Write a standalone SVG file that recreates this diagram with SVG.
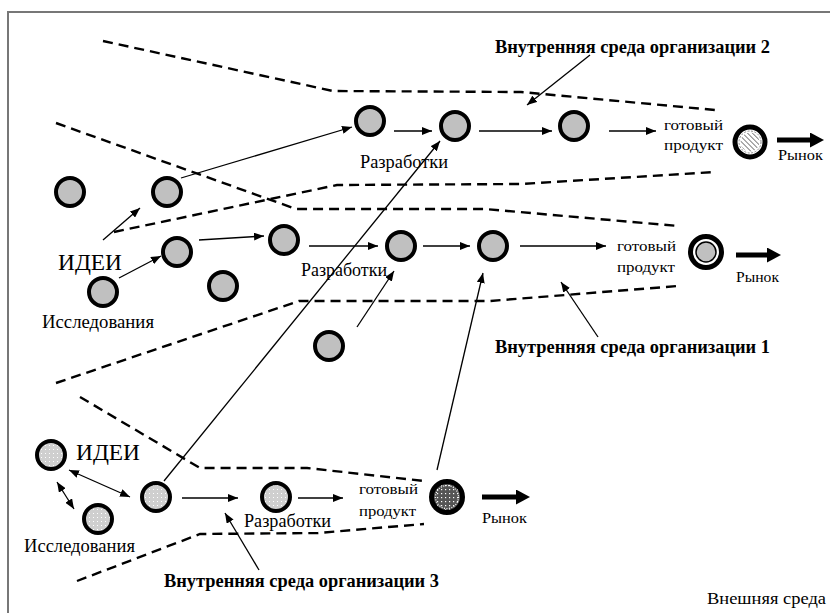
<svg xmlns="http://www.w3.org/2000/svg" width="830" height="613" viewBox="0 0 830 613">
<defs>
<style>
.n{fill:#c0c0c0;stroke:#000;stroke-width:4}
.nd{fill:url(#dots);stroke:#000;stroke-width:4}
.c{stroke:#000;stroke-width:1.3;fill:none;marker-end:url(#ah)}
.cd{stroke:#000;stroke-width:1.3;fill:none;marker-end:url(#ah);marker-start:url(#ah)}
.big{stroke:#000;stroke-width:5;fill:none;marker-end:url(#bh)}
.b{stroke:#000;stroke-width:2.4;fill:none;stroke-dasharray:10 6}
.t{font-family:"Liberation Serif","DejaVu Serif","Times New Roman",serif;fill:#000}
.lb{font-family:"Liberation Serif","DejaVu Serif","Times New Roman",serif;font-weight:bold;font-size:18px;fill:#000}
</style>
<marker id="ah" markerUnits="userSpaceOnUse" markerWidth="10" markerHeight="8" refX="10" refY="4" orient="auto-start-reverse"><path d="M0,0 L10,4 L0,8 z" fill="#000"/></marker>
<marker id="bh" markerUnits="userSpaceOnUse" markerWidth="14" markerHeight="15" refX="2" refY="7.5" orient="auto"><path d="M0,0 L14,7.5 L0,15 z" fill="#000"/></marker>
<pattern id="dots" patternUnits="userSpaceOnUse" width="4" height="4"><rect width="4" height="4" fill="#cfcfcf"/><rect x="1" y="1" width="1" height="1" fill="#fff"/></pattern>
<pattern id="ddots" patternUnits="userSpaceOnUse" width="4" height="4"><rect width="4" height="4" fill="#555"/><rect x="1" y="1" width="1.2" height="1.2" fill="#fff"/></pattern>
<pattern id="hatch" patternUnits="userSpaceOnUse" width="3.5" height="3.5" patternTransform="rotate(-45)"><rect width="3.5" height="3.5" fill="#fff"/><line x1="0" y1="0" x2="0" y2="3.5" stroke="#333" stroke-width="1.2"/></pattern>
</defs>
<rect width="830" height="613" fill="#fff"/>
<path d="M8,613 V12 H830" fill="none" stroke="#777" stroke-width="2"/>

<g id="boundaries">
<path class="b" d="M103,41 L333,91 L521,92 L715,110"/>
<path class="b" d="M114,232 L337,185 L521,184 L715,172"/>
<path class="b" d="M56,123 L296,209 L485,209 L678,226"/>
<path class="b" d="M56,383 L299,301 L490,301 L678,286"/>
<path class="b" d="M80,397 L200,468 L307,468 L424,481"/>
<path class="b" d="M77,581 L200,534 L318,533 L424,524"/>
</g>

<g id="connectors">
<line class="c" x1="103" y1="240" x2="140" y2="208"/>
<line class="c" x1="181" y1="178" x2="352" y2="127"/>
<line class="c" x1="119" y1="278" x2="161" y2="256"/>
<line class="c" x1="199" y1="240" x2="264" y2="236"/>
<line class="c" x1="309" y1="246" x2="378" y2="246"/>
<line class="c" x1="423" y1="246" x2="470" y2="246"/>
<line class="c" x1="520" y1="246" x2="606" y2="246"/>
<line class="c" x1="357" y1="327" x2="394" y2="271"/>
<line class="c" x1="437" y1="470" x2="483" y2="273"/>
<line class="c" x1="164" y1="481" x2="440" y2="141"/>
<line class="c" x1="394" y1="131" x2="432" y2="131"/>
<line class="c" x1="479" y1="131" x2="552" y2="131"/>
<line class="c" x1="609" y1="131" x2="656" y2="131"/>
<line class="c" x1="182" y1="498" x2="238" y2="498"/>
<line class="c" x1="298" y1="498" x2="343" y2="498"/>
<line class="cd" x1="69" y1="470" x2="130" y2="497"/>
<line class="cd" x1="57" y1="482" x2="74" y2="509"/>
<line class="c" x1="590" y1="55" x2="527" y2="105"/>
<line class="c" x1="598" y1="337" x2="561" y2="282"/>
<line class="c" x1="259" y1="570" x2="225" y2="513"/>
<line class="big" x1="777" y1="140" x2="812" y2="140"/>
<line class="big" x1="736" y1="255" x2="769" y2="255"/>
<line class="big" x1="482" y1="497" x2="518" y2="497"/>
</g>

<g id="org2">
<circle class="n" cx="370" cy="121" r="14"/>
<circle class="n" cx="455" cy="126" r="14"/>
<circle class="n" cx="574" cy="126" r="14"/>
<text class="t" x="360" y="168" font-size="18" textLength="88" lengthAdjust="spacingAndGlyphs">Разработки</text>
<text class="t" x="664" y="130" font-size="15" textLength="59" lengthAdjust="spacingAndGlyphs">готовый</text>
<text class="t" x="664" y="150" font-size="15" textLength="59" lengthAdjust="spacingAndGlyphs">продукт</text>
</g>
<g id="product2">
<circle cx="750" cy="142" r="15" fill="#fff" stroke="#000" stroke-width="5"/>
<circle cx="750" cy="142" r="11" fill="none" stroke="#888" stroke-width="1" stroke-dasharray="2 1.5"/>
<circle cx="750" cy="142" r="9.5" fill="url(#hatch)"/>
<text class="t" x="778" y="160" font-size="15" textLength="45" lengthAdjust="spacingAndGlyphs">Рынок</text>
</g>

<g id="ideas1">
<circle class="n" cx="70" cy="192" r="14"/>
<circle class="n" cx="167" cy="192" r="14"/>
<circle class="n" cx="177" cy="252" r="14"/>
<circle class="n" cx="103" cy="292" r="14"/>
<circle class="n" cx="223" cy="286" r="14"/>
<text class="t" x="58" y="270" font-size="24" textLength="64" lengthAdjust="spacingAndGlyphs">ИДЕИ</text>
<text class="t" x="42" y="328" font-size="18" textLength="112" lengthAdjust="spacingAndGlyphs">Исследования</text>
</g>

<g id="org1">
<circle class="n" cx="284" cy="240" r="14"/>
<circle class="n" cx="401" cy="246" r="14"/>
<circle class="n" cx="493" cy="246" r="14"/>
<circle class="n" cx="329" cy="346" r="14"/>
<text class="t" x="301" y="276" font-size="18" textLength="86" lengthAdjust="spacingAndGlyphs">Разработки</text>
<text class="t" x="617" y="251" font-size="15" textLength="59" lengthAdjust="spacingAndGlyphs">готовый</text>
<text class="t" x="617" y="272" font-size="15" textLength="58" lengthAdjust="spacingAndGlyphs">продукт</text>
</g>
<g id="product1">
<circle cx="706" cy="252" r="15.5" fill="#fff" stroke="#000" stroke-width="5"/>
<circle cx="706" cy="252" r="10" fill="#c0c0c0" stroke="#000" stroke-width="1.5"/>
<text class="t" x="736" y="282" font-size="15" textLength="43" lengthAdjust="spacingAndGlyphs">Рынок</text>
</g>

<g id="org3">
<circle class="nd" cx="51" cy="455" r="14"/>
<circle class="nd" cx="98" cy="519" r="14"/>
<circle class="nd" cx="156" cy="497" r="14"/>
<circle class="nd" cx="276" cy="497" r="14"/>
<text class="t" x="76" y="460" font-size="24" textLength="64" lengthAdjust="spacingAndGlyphs">ИДЕИ</text>
<text class="t" x="24" y="552" font-size="18" textLength="111" lengthAdjust="spacingAndGlyphs">Исследования</text>
<text class="t" x="244" y="527" font-size="18" textLength="87" lengthAdjust="spacingAndGlyphs">Разработки</text>
<text class="t" x="359" y="494" font-size="15" textLength="59" lengthAdjust="spacingAndGlyphs">готовый</text>
<text class="t" x="359" y="516" font-size="15" textLength="57" lengthAdjust="spacingAndGlyphs">продукт</text>
</g>
<g id="product3">
<circle cx="447" cy="497" r="15.5" fill="url(#ddots)" stroke="#000" stroke-width="5"/>
<circle cx="447" cy="497" r="11.5" fill="none" stroke="#fff" stroke-width="1.2" stroke-dasharray="1 1.5"/>
<text class="t" x="482" y="523" font-size="15" textLength="45" lengthAdjust="spacingAndGlyphs">Рынок</text>
</g>

<g id="labels">
<text class="lb" x="495" y="53" textLength="275" lengthAdjust="spacingAndGlyphs">Внутренняя среда организации 2</text>
<text class="lb" x="495" y="353" textLength="275" lengthAdjust="spacingAndGlyphs">Внутренняя среда организации 1</text>
<text class="lb" x="164" y="587" textLength="275" lengthAdjust="spacingAndGlyphs">Внутренняя среда организации 3</text>
<text class="t" x="707" y="604" font-size="17" textLength="119" lengthAdjust="spacingAndGlyphs">Внешняя среда</text>
</g>
</svg>
